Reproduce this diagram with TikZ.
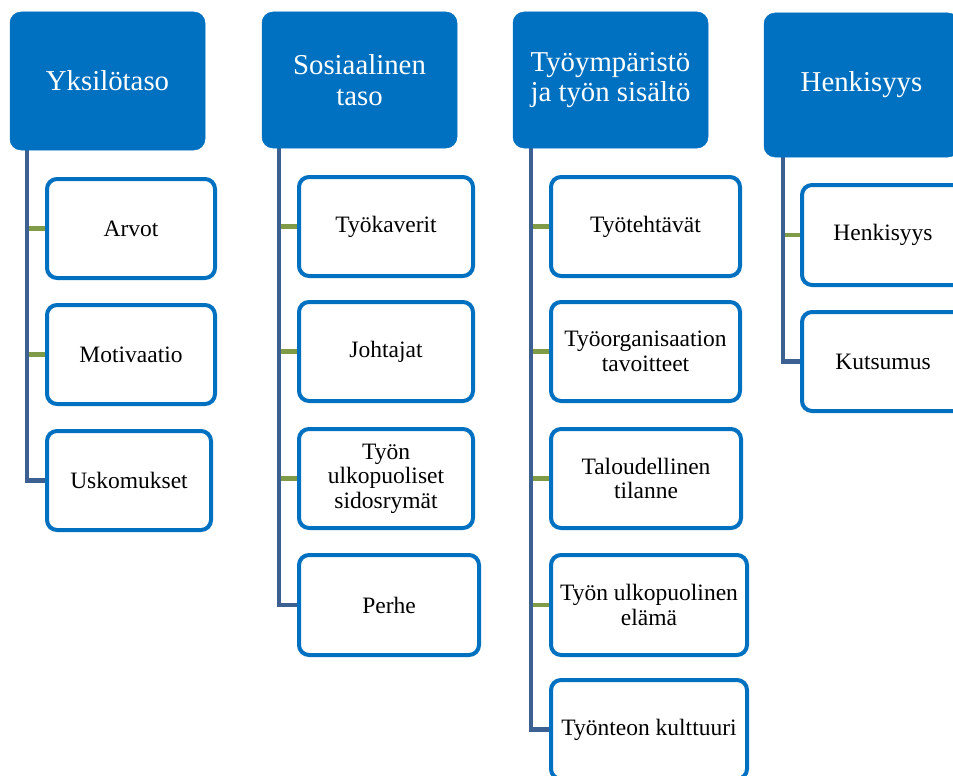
\documentclass[tikz,border=0pt]{standalone}
\usepackage{fontspec}
\setmainfont{Liberation Serif}
\usetikzlibrary{backgrounds}
\definecolor{hblue}{RGB}{0,112,192}
\definecolor{vgrey}{RGB}{59,96,145}
\definecolor{lgreen}{RGB}{127,155,72}
\begin{document}
\begin{tikzpicture}[x=1pt,y=-1pt,
  head/.style={fill=hblue, draw=hblue, line width=0.5pt, rounded corners=11pt, text=white,
    font=\fontsize{28.8}{30.5}\selectfont, align=center, inner sep=0pt},
  child/.style={fill=white, draw=hblue, line width=4pt, rounded corners=10pt,
    font=\fontsize{23.5}{24.5}\selectfont, align=center, inner sep=0pt},
  vline/.style={draw=vgrey, line width=4.3pt},
  hline/.style={draw=lgreen, line width=4.3pt}]
\useasboundingbox (0,0) rectangle (953,776);

% headers
\node[head, minimum width=195pt, minimum height=138pt] (h1) at (107.5,81) {Yksilötaso};
\node[head, minimum width=195pt, minimum height=136pt] (h2) at (359.5,80) {Sosiaalinen\\taso};
\node[head, minimum width=195pt, minimum height=136pt] (h3) at (610.5,80) {Työympäristö\\ja työn sisältö};
\node[head, minimum width=195pt, minimum height=144pt] (h4) at (861.5,85) {Henkisyys};

% column 1
\node[child, minimum width=168pt, minimum height=99pt] (c1a) at (131,228.5) {Arvot};
\node[child, minimum width=168pt, minimum height=99pt] (c1b) at (131,354.5) {Motivaatio};
\node[child, minimum width=164pt, minimum height=99pt] (c1c) at (129,480.5) {Uskomukset};

% column 2
\node[child, minimum width=174pt, minimum height=99pt] (c2a) at (386,226.5) {Työkaverit};
\node[child, minimum width=174pt, minimum height=99pt] (c2b) at (386,351.5) {Johtajat};
\node[child, minimum width=174pt, minimum height=99pt] (c2c) at (386,478.5) {Työn\\ulkopuoliset\\sidosrymät};
\node[child, minimum width=180pt, minimum height=100pt] (c2d) at (389,605) {Perhe};

% column 3
\node[child, minimum width=189pt, minimum height=99pt] (c3a) at (645.5,226.5) {Työtehtävät};
\node[child, minimum width=189pt, minimum height=99pt] (c3b) at (645.5,351.5) {Työorganisaation\\tavoitteet};
\node[child, minimum width=190pt, minimum height=99pt] (c3c) at (646,478.5) {Taloudellinen\\tilanne};
\node[child, minimum width=196pt, minimum height=100pt] (c3d) at (649,605) {Työn ulkopuolinen\\elämä};
\node[child, minimum width=196pt, minimum height=99pt] (c3e) at (649,729.5) {Työnteon kulttuuri};

% column 4
\node[child, minimum width=162pt, minimum height=100pt] (c4a) at (883,235) {Henkisyys};
\node[child, minimum width=162pt, minimum height=99pt] (c4b) at (883,361.5) {Kutsumus};

\coordinate (v1) at (27,150);
\coordinate (v2) at (279,148);
\coordinate (v3) at (531,148);
\coordinate (v4) at (783,157);

\begin{scope}[on background layer]
  \fill[white] (0,0) rectangle (953,776);
  \draw[hline] (v1 |- c1a.west) -- (c1a.west);
  \draw[hline] (v1 |- c1b.west) -- (c1b.west);
  \draw[vline] (v1) |- (c1c.west);

  \draw[hline] (v2 |- c2a.west) -- (c2a.west);
  \draw[hline] (v2 |- c2b.west) -- (c2b.west);
  \draw[hline] (v2 |- c2c.west) -- (c2c.west);
  \draw[vline] (v2) |- (c2d.west);

  \draw[hline] (v3 |- c3a.west) -- (c3a.west);
  \draw[hline] (v3 |- c3b.west) -- (c3b.west);
  \draw[hline] (v3 |- c3c.west) -- (c3c.west);
  \draw[hline] (v3 |- c3d.west) -- (c3d.west);
  \draw[vline] (v3) |- (c3e.west);

  \draw[hline] (v4 |- c4a.west) -- (c4a.west);
  \draw[vline] (v4) |- (c4b.west);
\end{scope}
\end{tikzpicture}
\end{document}
